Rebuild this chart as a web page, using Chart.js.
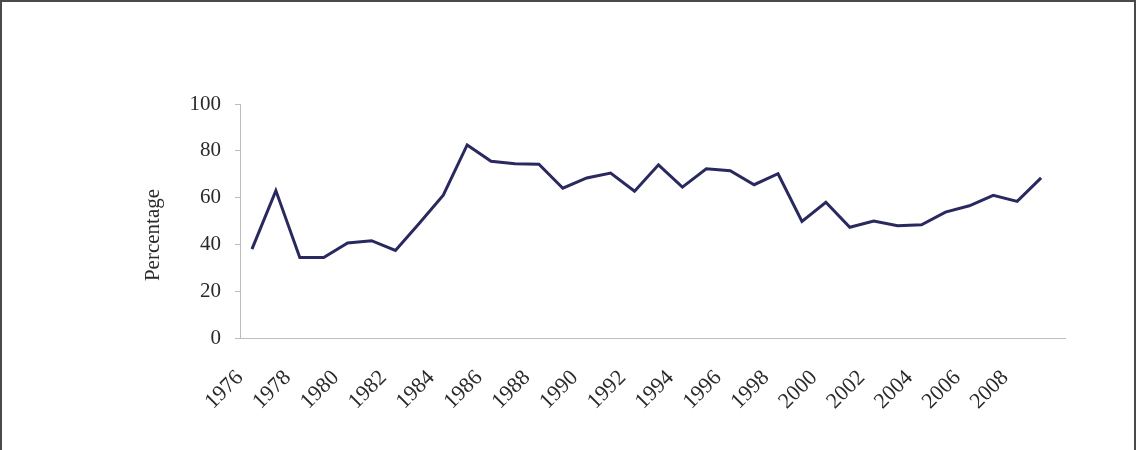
<!DOCTYPE html>
<html>
<head>
<meta charset="utf-8">
<script src="https://cdn.jsdelivr.net/npm/chart.js@4.4.0/dist/chart.umd.min.js"></script>
<style>
  html, body { margin: 0; padding: 0; background: #fff; }
  #wrap { position: relative; width: 1136px; height: 450px; }
  #chart { position: absolute; left: 0; top: 0; }
  #frame {
    position: absolute; left: 0; top: 0; width: 1136px; height: 450px;
    box-sizing: border-box; pointer-events: none;
    border-top: 2px solid #4a4a4a; border-left: 2px solid #4a4a4a; border-right: 2px solid #4a4a4a;
  }
</style>
</head>
<body>
<div id="wrap">
  <canvas id="chart" width="1136" height="450"></canvas>
  <div id="frame"></div>
</div>
<script>
(function () {
  var YEARS = [1976, 1977, 1978, 1979, 1980, 1981, 1982, 1983, 1984, 1985,
               1986, 1987, 1988, 1989, 1990, 1991, 1992, 1993, 1994, 1995,
               1996, 1997, 1998, 1999, 2000, 2001, 2002, 2003, 2004, 2005,
               2006, 2007, 2008, 2009];
  var PERCENT = [38, 63, 34.4, 34.4, 40.6, 41.6, 37.4, 49, 61, 82.5,
                 75.5, 74.5, 74.3, 64, 68.4, 70.5, 62.7, 74, 64.5, 72.3,
                 71.5, 65.5, 70.2, 49.8, 58, 47.3, 50, 48, 48.4, 53.8,
                 56.5, 61, 58.4, 68.4];
  var X_LABELS = [1976, 1978, 1980, 1982, 1984, 1986, 1988, 1990, 1992,
                  1994, 1996, 1998, 2000, 2002, 2004, 2006, 2008];
  var Y_TICKS = [0, 20, 40, 60, 80, 100];
  var Y_TITLE = 'Percentage';

  var FONT = "'Liberation Serif', 'Times New Roman', serif";
  var lineColor = '#29295f';
  var axisColor = '#bdbdbd';
  var textColor = '#2a2a2a';

  var points = YEARS.map(function (y, i) { return { x: y, y: PERCENT[i] }; });

  // axis title sits a bit below the middle of the plot, so draw it by hand
  var yTitlePlugin = {
    id: 'yTitle',
    afterDraw: function (chart) {
      var c = chart.ctx;
      c.save();
      c.translate(153, 235);
      c.rotate(-Math.PI / 2);
      c.font = '21px ' + FONT;
      c.fillStyle = textColor;
      c.textAlign = 'center';
      c.textBaseline = 'middle';
      c.fillText(Y_TITLE, 0, 0);
      c.restore();
    },
  };

  new Chart(document.getElementById('chart'), {
    type: 'line',
    data: {
      datasets: [{
        data: points,
        borderColor: lineColor,
        borderWidth: 3,
        pointRadius: 0,
        tension: 0,
        fill: false,
      }],
    },
    options: {
      responsive: false,
      animation: false,
      layout: { padding: { left: 130, right: 71, top: 104, bottom: 0 } },
      plugins: { legend: { display: false }, tooltip: { enabled: false } },
      scales: {
        x: {
          type: 'linear',
          min: 1975.5,
          max: 2010,
          afterBuildTicks: function (scale) {
            scale.ticks = X_LABELS.map(function (v) { return { value: v }; });
          },
          afterFit: function (scale) { scale.height = 112; },
          ticks: {
            autoSkip: false,
            minRotation: 45,
            maxRotation: 45,
            labelOffset: -12,
            padding: 21,
            color: textColor,
            font: { family: FONT, size: 22 },
            callback: function (v) { return String(v); },
          },
          grid: { display: true, drawOnChartArea: false, drawTicks: true, tickLength: 6, color: 'rgba(0,0,0,0)' },
          border: { display: true, color: axisColor, width: 1 },
        },
        y: {
          min: 0,
          max: 100,
          afterBuildTicks: function (scale) {
            scale.ticks = Y_TICKS.map(function (v) { return { value: v }; });
          },
          afterFit: function (scale) { scale.width = 110; },
          ticks: {
            padding: 14,
            color: textColor,
            font: { family: FONT, size: 21 },
          },
          grid: { display: true, drawOnChartArea: false, drawTicks: true, tickLength: 5, color: axisColor },
          border: { display: true, color: axisColor, width: 1 },
        },
      },
    },
    plugins: [yTitlePlugin],
  });
})();
</script>
</body>
</html>
